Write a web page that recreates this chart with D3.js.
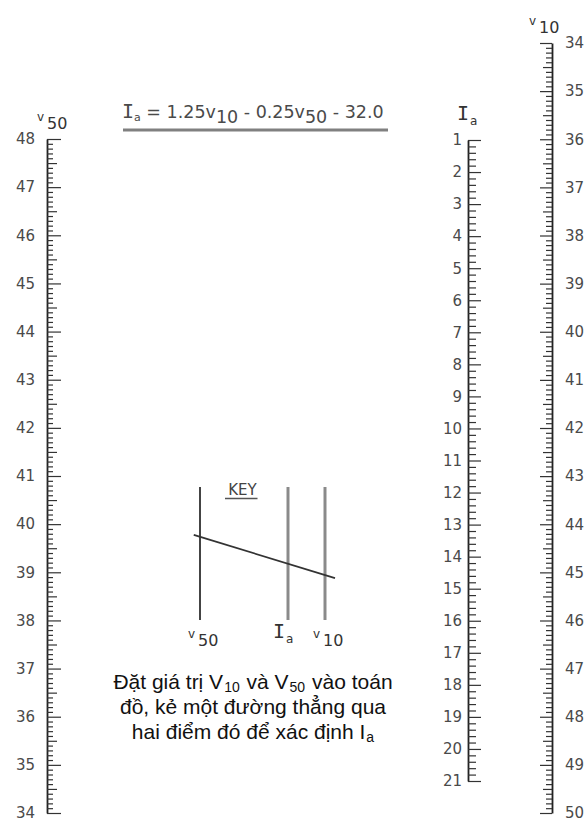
<!DOCTYPE html>
<html>
<head>
<meta charset="utf-8">
<script src="https://cdn.jsdelivr.net/npm/d3@7"></script>
<style>
  body { margin: 0; background: #fff; }
  svg { display: block; }
  .num { font-family: "DejaVu Sans", sans-serif; font-size: 15px; fill: #4a4a4a; }
  .cap { font-family: "Liberation Sans", Arial, sans-serif; font-size: 21px; fill: #111; }
</style>
</head>
<body>
<div id="chart"></div>
<script>
// Nomogram values
const v50Labels = [34, 35, 36, 37, 38, 39, 40, 41, 42, 43, 44, 45, 46, 47, 48];
const v10Labels = [34, 35, 36, 37, 38, 39, 40, 41, 42, 43, 44, 45, 46, 47, 48, 49, 50];
const iaLabels = [1, 2, 3, 4, 5, 6, 7, 8, 9, 10, 11, 12, 13, 14, 15, 16, 17, 18, 19, 20, 21];
const v50Step = 0.1;
const v10Step = 0.1;
const iaStep = 0.2;

// Key sketch: axis order and the sample line (in key units)
const keyAxes = [
    { name: 'V', sub: '50', pos: 0 },
    { name: 'I', sub: 'a', pos: 0.704 },
    { name: 'V', sub: '10', pos: 1 }
];
const keyLine = [{ x: -0.05, y: 0.36 }, { x: 1.08, y: 0.685 }];

const captionLines = [
    [['Đặt giá trị V', ''], ['10', 'sub'], [' và V', ''], ['50', 'sub'], [' vào toán', '']],
    [['đồ, kẻ một đường thẳng qua', '']],
    [['hai điểm đó để xác định I', ''], ['a', 'sub']]
];

const chart = { width: 586, height: 823 };

const svg = d3.select('#chart')
    .append('svg')
    .attr('width', chart.width)
    .attr('height', chart.height);

// Scales (all three axes are linear; Ia sits 5/6 of the way to V10)
const x = { v50: 47, ia: 468, v10: 552 };
const yV50 = d3.scaleLinear().domain([34, 48]).range([813, 139]);
const yV10 = d3.scaleLinear().domain([34, 50]).range([43, 813]);
const yIa = d3.scaleLinear().domain([1, 21]).range([140, 781]);

function ticksFor(scale, step) {
    const [a, b] = scale.domain();
    const n = Math.round((b - a) / step);
    return d3.range(n + 1).map(i => +(a + i * step).toFixed(2));
}

function drawScale(opts) {
    const g = svg.append('g').attr('transform', `translate(${opts.x},0)`);
    const dir = opts.side === 'right' ? 1 : -1;
    const axis = (dir === 1 ? d3.axisRight(opts.scale) : d3.axisLeft(opts.scale))
        .tickValues(ticksFor(opts.scale, opts.step))
        .tickFormat('')
        .tickSizeOuter(0);
    g.call(axis);
    g.select('.domain').attr('stroke', '#222').attr('stroke-width', 1.8);
    g.selectAll('.tick line')
        .attr('stroke', '#333')
        .attr('stroke-width', 1.2)
        .attr('x2', d => {
            const r = Math.round(d * 100) / 100;
            if (Math.abs(r - Math.round(r)) < 1e-6) return dir * opts.major;
            if (opts.medium && Math.abs(r * 2 - Math.round(r * 2)) < 1e-6) return dir * opts.medium;
            return dir * opts.minor;
        });

    // Labels on the opposite side
    const lab = (dir === 1 ? d3.axisLeft(opts.scale) : d3.axisRight(opts.scale))
        .tickValues(opts.labels)
        .tickSize(0)
        .tickPadding(opts.pad);
    const lg = svg.append('g').attr('transform', `translate(${opts.x},0)`).call(lab);
    lg.select('.domain').remove();
    lg.selectAll('text').attr('class', 'num').attr('font-family', null).attr('font-size', null);
}

drawScale({ x: x.v50, scale: yV50, step: v50Step, labels: v50Labels, side: 'right', major: 14, medium: 10, minor: 6, pad: 12 });
drawScale({ x: x.ia, scale: yIa, step: iaStep, labels: iaLabels, side: 'right', major: 13, medium: 0, minor: 8, pad: 6 });
drawScale({ x: x.v10, scale: yV10, step: v10Step, labels: v10Labels, side: 'left', major: 12, medium: 9, minor: 6, pad: 13 });

// Axis titles: a small "v" or serif "I" with a larger offset subscript
function title(g, px, py, name, sub) {
    const isI = name === 'I';
    const t = g.append('text')
        .attr('x', px).attr('y', py)
        .attr('font-family', isI ? '"DejaVu Sans Mono", monospace' : '"DejaVu Sans", sans-serif')
        .attr('font-size', isI ? 20 : 12)
        .attr('fill', '#333');
    t.append('tspan').text(isI ? 'I' : 'v');
    t.append('tspan')
        .attr('font-family', '"DejaVu Sans", sans-serif')
        .attr('font-size', isI ? 12 : 16)
        .attr('dx', isI ? 1 : 3)
        .attr('dy', isI ? 5 : 8)
        .text(sub);
    return t;
}
title(svg, 37, 121, 'V', '50');
title(svg, 457, 120, 'I', 'a');
title(svg, 529, 25, 'V', '10');

// Formula heading
const f = svg.append('text')
    .attr('x', 122).attr('y', 118)
    .attr('font-family', '"DejaVu Sans", sans-serif')
    .attr('font-size', 17.5)
    .attr('fill', '#4a4a4a');
f.append('tspan').attr('font-family', '"DejaVu Sans Mono", monospace').attr('font-size', 20).text('I');
f.append('tspan').attr('font-size', 11).attr('dy', 3).text('a');
f.append('tspan').attr('dy', -3).text(' = 1.25v');
f.append('tspan').attr('dy', 5).text('10');
f.append('tspan').attr('dy', -5).text(' - 0.25v');
f.append('tspan').attr('dy', 5).text('50');
f.append('tspan').attr('dy', -5).text(' - 32.0');
svg.append('line')
    .attr('x1', 123).attr('x2', 388)
    .attr('y1', 130).attr('y2', 130)
    .attr('stroke', '#808080').attr('stroke-width', 3);

// Key sketch
const kx = d3.scaleLinear().domain([0, 1]).range([200, 325]);
const ky = d3.scaleLinear().domain([0, 1]).range([487, 620]);
const key = svg.append('g');
key.selectAll('line.kaxis')
    .data(keyAxes)
    .join('line')
    .attr('class', 'kaxis')
    .attr('x1', d => kx(d.pos)).attr('x2', d => kx(d.pos))
    .attr('y1', ky(0)).attr('y2', ky(1))
    .attr('stroke', (d, i) => i === 0 ? '#444' : '#8a8a8a')
    .attr('stroke-width', (d, i) => i === 0 ? 2 : 3);
key.append('path')
    .datum(keyLine)
    .attr('d', d3.line().x(d => kx(d.x)).y(d => ky(d.y)))
    .attr('stroke', '#333').attr('stroke-width', 1.8).attr('fill', 'none');
key.append('text')
    .attr('x', kx(0.34)).attr('y', 495)
    .attr('text-anchor', 'middle')
    .attr('font-family', '"DejaVu Sans", sans-serif').attr('font-size', 15).attr('fill', '#444')
    .text('KEY');
key.append('line')
    .attr('x1', kx(0.2)).attr('x2', kx(0.46))
    .attr('y1', 498.5).attr('y2', 498.5)
    .attr('stroke', '#555').attr('stroke-width', 1.5);
keyAxes.forEach(d => {
    const isI = d.name === 'I';
    title(key, kx(d.pos) - (isI ? 15 : 12), 638, d.name, d.sub);
});

// Caption
const cap = svg.append('g');
captionLines.forEach((line, i) => {
    const t = cap.append('text')
        .attr('class', 'cap')
        .attr('x', 253)
        .attr('y', 689 + i * 25)
        .attr('text-anchor', 'middle');
    let shifted = false;
    line.forEach(([txt, kind]) => {
        const s = t.append('tspan').text(txt);
        if (kind === 'sub') {
            s.attr('font-size', 14).attr('dx', 1).attr('dy', 3);
            shifted = true;
        } else if (shifted) {
            s.attr('dx', 1).attr('dy', -3);
            shifted = false;
        }
    });
});
</script>
</body>
</html>
